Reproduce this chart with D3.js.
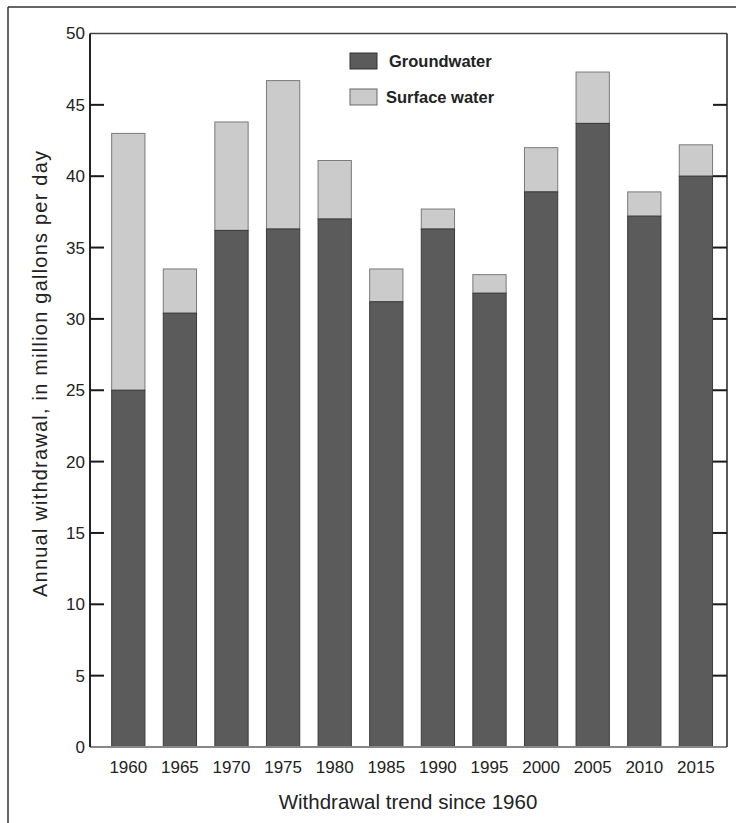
<!DOCTYPE html>
<html>
<head>
<meta charset="utf-8">
<script src="https://cdn.jsdelivr.net/npm/d3@7"></script>
<style>
  html, body { margin: 0; padding: 0; background: #fff; }
  svg { display: block; }
  text { font-family: "Liberation Sans", Arial, sans-serif; fill: #222; }
</style>
</head>
<body>
<svg id="chart" width="736" height="823"></svg>
<script>
const years = ["1960","1965","1970","1975","1980","1985","1990","1995","2000","2005","2010","2015"];
const groundwater = [25.0, 30.4, 36.2, 36.3, 37.0, 31.2, 36.3, 31.8, 38.9, 43.7, 37.2, 40.0];
const totalWithdrawal = [43.0, 33.5, 43.8, 46.7, 41.1, 33.5, 37.7, 33.1, 42.0, 47.3, 38.9, 42.2];
const yTicks = [0, 5, 10, 15, 20, 25, 30, 35, 40, 45, 50];
const seriesNames = ["Groundwater", "Surface water"];
const seriesColors = ["#5a5b5a", "#cbcbcb"];

const svg = d3.select("#chart");
const plot = { left: 90, right: 727, top: 33.5, bottom: 747 };

const x = d3.scaleBand().domain(years).range([102.5, 721.7]).paddingInner(0.355).paddingOuter(0.1775);
const y = d3.scaleLinear().domain([0, 50]).range([plot.bottom, plot.top]);

// outer frame
svg.append("line").attr("x1", 8).attr("x2", 736).attr("y1", 7).attr("y2", 7).attr("stroke", "#333").attr("stroke-width", 1.5);
svg.append("line").attr("x1", 8).attr("x2", 8).attr("y1", 7).attr("y2", 823).attr("stroke", "#333").attr("stroke-width", 1.5);

// bars
const rows = years.map((yr, i) => ({ yr, g: groundwater[i], t: totalWithdrawal[i] }));
const bars = svg.append("g");
bars.selectAll("rect.sw").data(rows).join("rect").attr("class", "sw")
  .attr("x", d => x(d.yr)).attr("width", x.bandwidth())
  .attr("y", d => y(d.t)).attr("height", d => y(d.g) - y(d.t))
  .attr("fill", seriesColors[1]).attr("stroke", "#7a7a7a").attr("stroke-width", 1);
bars.selectAll("rect.gw").data(rows).join("rect").attr("class", "gw")
  .attr("x", d => x(d.yr)).attr("width", x.bandwidth())
  .attr("y", d => y(d.g)).attr("height", d => y(0) - y(d.g))
  .attr("fill", seriesColors[0]).attr("stroke", "#3a3a3a").attr("stroke-width", 1);

// axes frame
svg.append("line").attr("x1", plot.left).attr("x2", plot.right).attr("y1", plot.top).attr("y2", plot.top).attr("stroke", "#444").attr("stroke-width", 1.5);
svg.append("line").attr("x1", plot.left).attr("x2", plot.right).attr("y1", plot.bottom).attr("y2", plot.bottom).attr("stroke", "#888").attr("stroke-width", 2);
svg.append("line").attr("x1", plot.left).attr("x2", plot.left).attr("y1", plot.top).attr("y2", plot.bottom).attr("stroke", "#222").attr("stroke-width", 2);
svg.append("line").attr("x1", plot.right).attr("x2", plot.right).attr("y1", plot.top).attr("y2", plot.bottom).attr("stroke", "#222").attr("stroke-width", 1.5);

// left axis
const yAxisL = d3.axisLeft(y).tickValues(yTicks).tickSize(0).tickPadding(5).tickFormat(d3.format("d"));
const gL = svg.append("g").attr("transform", `translate(${plot.left},0)`).call(yAxisL);
gL.select(".domain").remove();
gL.selectAll("text").attr("font-size", "17px").attr("fill", "#222").style("font-family", "'Liberation Sans', Arial, sans-serif");
const innerTicks = yTicks.filter(v => v > 0 && v < 50);
svg.append("g").selectAll("line").data(innerTicks).join("line")
  .attr("x1", plot.left).attr("x2", plot.left + 14).attr("y1", d => y(d)).attr("y2", d => y(d))
  .attr("stroke", "#1a1a1a").attr("stroke-width", 2);
svg.append("g").selectAll("line").data(innerTicks).join("line")
  .attr("x1", plot.right - 14).attr("x2", plot.right).attr("y1", d => y(d)).attr("y2", d => y(d))
  .attr("stroke", "#1a1a1a").attr("stroke-width", 2);

// bottom axis labels
const xAxis = d3.axisBottom(x).tickSize(0).tickPadding(14);
const gB = svg.append("g").attr("transform", `translate(0,${plot.bottom})`).call(xAxis);
gB.select(".domain").remove();
gB.selectAll("text").attr("font-size", "17px").attr("fill", "#222").style("font-family", "'Liberation Sans', Arial, sans-serif");

// axis titles
svg.append("text").attr("x", 408).attr("y", 809).attr("text-anchor", "middle")
  .attr("font-size", "20.5px").text("Withdrawal trend since 1960");
svg.append("text").attr("transform", "translate(47,374) rotate(-90)").attr("text-anchor", "middle")
  .attr("font-size", "20px").attr("textLength", 446).attr("lengthAdjust", "spacing")
  .text("Annual withdrawal, in million gallons per day");

// legend
const legend = svg.append("g");
const legY = [53, 89];
seriesNames.forEach((name, i) => {
  legend.append("rect").attr("x", 350).attr("y", legY[i]).attr("width", 27).attr("height", 16)
    .attr("fill", seriesColors[i]).attr("stroke", i === 0 ? "#333" : "#666").attr("stroke-width", 1);
  legend.append("text").attr("x", i === 0 ? 389 : 386).attr("y", legY[i] + 14)
    .attr("font-size", "16.5px").attr("font-weight", "bold").text(name);
});
</script>
</body>
</html>
